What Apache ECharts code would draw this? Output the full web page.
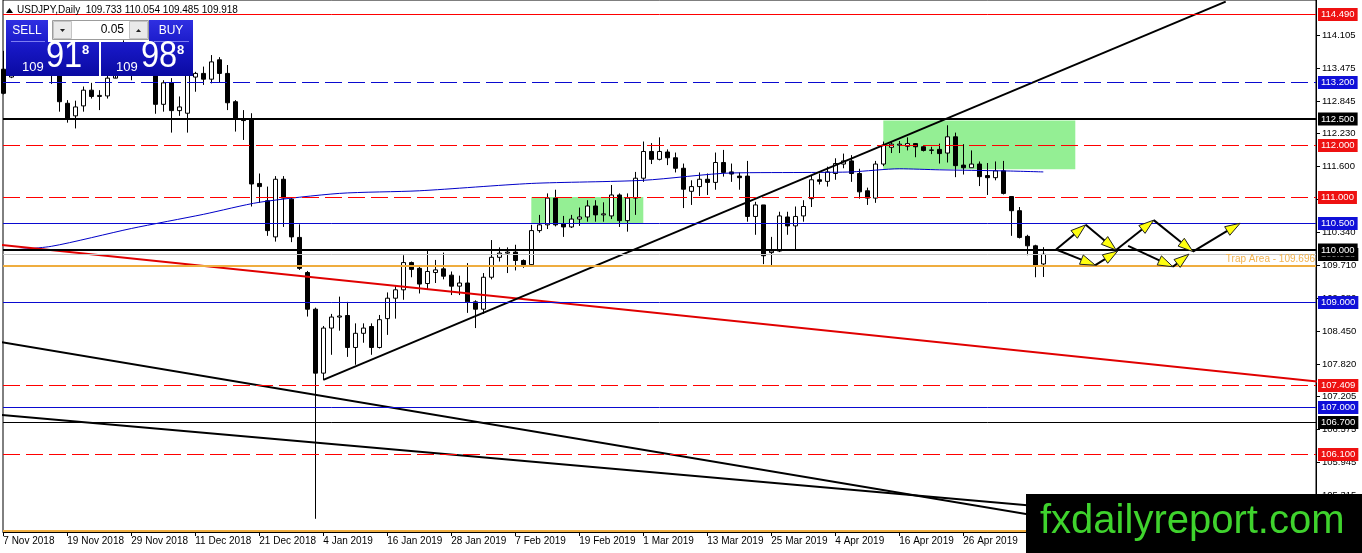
<!DOCTYPE html>
<html><head><meta charset="utf-8">
<script src="https://cdn.jsdelivr.net/npm/echarts@6/dist/echarts.min.js"></script>
<style>html,body{margin:0;padding:0;background:#fff;overflow:hidden}#c{width:1362px;height:553px}</style>
</head><body><div id="c"></div><script>
// ---------- DATA ----------
const symbolName = 'USDJPY,Daily';
const tickLabels = ['7 Nov 2018','19 Nov 2018','29 Nov 2018','11 Dec 2018','21 Dec 2018','4 Jan 2019','16 Jan 2019','28 Jan 2019','7 Feb 2019','19 Feb 2019','1 Mar 2019','13 Mar 2019','25 Mar 2019','4 Apr 2019','16 Apr 2019','26 Apr 2019'];
const barsPerTick = 8;
const yTickValues = [114.105,113.475,112.845,112.230,111.600,110.970,110.340,109.710,109.080,108.450,107.820,107.205,106.575,105.945,105.315];
// daily candles: [open, high, low, close]
const candles = [
[113.45,113.80,112.97,112.99],[113.30,113.95,113.28,113.88],[113.88,114.08,113.60,113.83],[113.83,114.20,113.70,113.85],
[113.85,114.00,113.55,113.78],[113.78,113.95,113.40,113.62],[113.62,113.75,113.17,113.58],[113.58,113.62,112.64,112.83],
[112.80,112.86,112.43,112.51],[112.56,112.85,112.32,112.73],[112.75,113.12,112.64,113.05],[113.05,113.19,112.89,112.93],
[112.93,113.05,112.67,112.95],[112.94,113.40,112.89,113.28],[113.28,113.85,113.32,113.75],[113.75,114.00,113.45,113.65],
[113.65,113.72,113.24,113.45],[113.45,113.75,113.34,113.55],[113.55,113.85,113.40,113.65],[113.65,113.75,112.60,112.78],
[112.78,113.24,112.64,113.19],[113.19,113.28,112.24,112.66],[112.66,112.93,112.56,112.73],[112.61,113.50,112.24,113.34],
[113.30,113.40,113.02,113.37],[113.37,113.50,113.15,113.26],[113.26,113.72,113.18,113.59],[113.63,113.68,113.19,113.37],
[113.37,113.53,112.67,112.81],[112.83,112.86,112.26,112.51],[112.49,112.67,112.10,112.47],[112.50,112.61,110.83,111.26],
[111.27,111.46,110.90,111.21],[110.94,111.21,110.27,110.37],[110.25,111.41,110.16,111.35],[111.35,111.41,110.44,110.99],
[110.97,111.00,110.15,110.25],[110.24,110.49,109.62,109.65],[109.57,109.60,108.73,108.87],[108.87,108.90,104.87,107.65],
[107.65,108.55,107.52,108.51],[108.51,108.78,108.00,108.72],[108.72,109.11,108.46,108.74],[108.75,109.01,107.96,108.14],
[108.14,108.60,107.81,108.41],[108.41,108.60,108.23,108.51],[108.54,108.60,108.00,108.14],[108.14,108.76,108.12,108.67],
[108.69,109.19,108.38,109.08],[109.08,109.33,108.69,109.24],[109.24,109.90,109.05,109.76],[109.76,109.78,109.48,109.63],
[109.65,109.68,109.17,109.35],[109.36,110.00,109.24,109.59],[109.57,109.81,109.37,109.62],[109.64,109.95,109.44,109.50],
[109.52,109.59,109.14,109.31],[109.31,109.51,109.14,109.37],[109.37,109.75,108.80,109.01],[109.01,109.04,108.51,108.87],
[108.87,109.56,108.78,109.48],[109.48,110.19,109.44,109.86],[109.86,110.05,109.78,109.94],[109.94,110.05,109.56,109.96],
[109.96,110.10,109.61,109.80],[109.80,109.82,109.66,109.72],[109.72,110.48,109.70,110.37],[110.37,110.67,110.33,110.48],
[110.48,111.08,110.40,110.99],[110.99,111.15,110.45,110.48],[110.50,110.65,110.25,110.44],[110.44,110.67,110.42,110.59],
[110.59,110.81,110.46,110.63],[110.63,110.95,110.54,110.84],[110.84,110.95,110.54,110.67],[110.67,110.91,110.54,110.69],
[110.65,111.24,110.59,111.05],[111.05,111.08,110.44,110.56],[110.56,111.08,110.35,110.99],[110.99,111.49,110.67,111.37],
[111.37,112.07,111.30,111.88],[111.88,112.04,111.64,111.73],[111.73,112.15,111.71,111.88],[111.87,111.92,111.62,111.76],
[111.76,111.86,111.48,111.56],[111.56,111.65,110.80,111.16],[111.12,111.33,110.86,111.21],[111.21,111.48,111.03,111.35],
[111.35,111.46,111.05,111.29],[111.29,111.86,111.15,111.67],[111.67,111.91,111.40,111.48],[111.49,111.65,111.30,111.45],
[111.41,111.48,111.15,111.38],[111.41,111.70,110.54,110.64],[110.64,110.92,110.29,110.86],[110.86,110.86,109.73,109.89],
[109.95,110.25,109.71,109.98],[109.98,110.73,109.96,110.65],[110.63,110.73,110.29,110.46],[110.46,110.83,110.00,110.64],
[110.65,110.95,110.54,110.83],[110.98,111.43,110.82,111.34],[111.34,111.46,111.25,111.31],[111.31,111.59,111.21,111.49],
[111.46,111.75,111.34,111.65],[111.64,111.84,111.56,111.70],[111.70,111.81,111.30,111.46],[111.46,111.55,110.98,111.11],
[111.13,111.19,110.86,110.99],[110.99,111.70,110.90,111.64],[111.64,112.07,111.60,112.00],[111.96,112.08,111.85,112.02],
[112.00,112.08,111.85,112.02],[111.98,112.15,111.90,112.03],[112.03,112.04,111.77,111.97],[111.97,111.98,111.88,111.90],
[111.90,111.97,111.83,111.91],[111.92,112.03,111.65,111.84],[111.85,112.38,111.67,112.16],[112.16,112.24,111.39,111.61],
[111.62,112.02,111.44,111.57],[111.57,111.90,111.57,111.64],[111.64,111.69,111.22,111.40],[111.42,111.66,111.05,111.38],
[111.38,111.69,111.33,111.51],[111.51,111.70,111.06,111.08],[111.02,111.02,110.27,110.75],[110.75,110.82,110.22,110.24],
[110.26,110.29,109.90,110.08],[110.08,110.10,109.48,109.71],[109.733,110.054,109.485,109.918]
];
const bidPrice = 109.918;
const askPrice = 109.988;
const lotSize = '0.05';
// moving average: [bar index, price]
const maPoints = [[0,109.99],[6,110.07],[16,110.41],[25,110.68],[32,110.91],[42,111.08],[52,111.13],[66,111.27],[80,111.33],[91,111.47],[101,111.48],[106,111.49],[112,111.55],[117,111.53],[125,111.51],[130,111.49]];
// drawn trend lines: [bar index, price] end points
const risingTrend = [[40,107.52],[152.8,114.74]];
const redTrend = [[-1,110.11],[165,107.48]];
const fallingTrendA = [[-1,108.26],[165,104.01]];
const fallingTrendB = [[-1,106.86],[165,104.63]];
// green zones: [fromBar, topPrice, toBar, bottomPrice]
const greenZones = [[66,111.01,80,110.50],[110,112.47,134,111.54]];
// projected path arrows: [fromBar, fromPrice, toBar, toPrice]
const arrowSegments = [
[131.6,110.01,135.3,110.48],[135.3,110.48,139.1,110.00],[131.6,110.01,136.5,109.71],[136.5,109.71,139.3,109.98],
[139.1,110.00,143.8,110.57],[140.6,110.08,146.2,109.68],[143.8,110.57,148.7,109.97],[146.2,109.68,148.2,109.92],
[148.7,109.97,154.6,110.51]
];
// horizontal levels
const redSolidLevels = [114.49];
const redDashedLevels = [112.0, 111.0, 107.409, 106.1];
const blueDashedLevels = [113.2];
const blueSolidLevels = [110.5, 109.0, 107.0];
const blackThickLevels = [112.5, 110.0];
const blackThinLevels = [106.7];
const trapLevel = 109.696;
const trapText = 'Trap Area - ' + trapLevel.toFixed(3);
const bottomLevel = 104.64;
const logoText = 'fxdailyreport.com';

// ---------- CHART ----------
const FONT = 'Liberation Sans';
const X_MIN = -0.0375, X_MAX = 164.0875;
const candleData = candles.map((c, i) => [i, c[0], c[3], c[2], c[1]]);
const tickIdx = tickLabels.map((_, k) => k * barsPerTick);
const last = candles[candles.length - 1];

const KINDS = {
  bid:        { stroke: '#c4c4c4', width: 1, dash: null, bg: '#000' },
  redSolid:   { stroke: '#ff0000', width: 1, dash: null, bg: '#ee1111' },
  redDash:    { stroke: '#ff0000', width: 1, dash: [17, 6], bg: '#ee1111' },
  blueDash:   { stroke: '#0a0ad0', width: 1, dash: [17, 6], bg: '#1010d8' },
  blueSolid:  { stroke: '#0a0ad0', width: 1, dash: null, bg: '#1010d8' },
  blackThin:  { stroke: '#000', width: 1, dash: null, bg: '#000' },
  blackThick: { stroke: '#000', width: 2, dash: null, bg: '#000' },
  trap:       { stroke: '#efad3f', width: 2, dash: null, bg: null, text: trapText },
  bottom:     { stroke: '#efad3f', width: 2, dash: null, bg: null }
};
const levelRows = [].concat(
  [[bidPrice, 'bid'], [bottomLevel, 'bottom'], [trapLevel, 'trap']],
  redSolidLevels.map(p => [p, 'redSolid']),
  redDashedLevels.map(p => [p, 'redDash']),
  blueDashedLevels.map(p => [p, 'blueDash']),
  blueSolidLevels.map(p => [p, 'blueSolid']),
  blackThinLevels.map(p => [p, 'blackThin']),
  blackThickLevels.map(p => [p, 'blackThick'])
);

function trendSeries(pts, color, width) {
  return { type: 'line', data: pts, symbol: 'none', clip: true, z: 5, silent: true,
    lineStyle: { color: color, width: width }, animation: false };
}

const blueGrad = { type: 'linear', x: 0, y: 20, x2: 0, y2: 76, global: true,
  colorStops: [{ offset: 0, color: '#2f2fe2' }, { offset: 0.5, color: '#1717c4' }, { offset: 1, color: '#0a0aa2' }] };
const bidStr = bidPrice.toFixed(3), askStr = askPrice.toFixed(3);

const chart = echarts.init(document.getElementById('c'));
chart.setOption({
  animation: false,
  backgroundColor: '#fff',
  grid: { left: 3, right: 46, top: 0, bottom: 21, show: true, borderColor: '#000', borderWidth: 1, backgroundColor: 'transparent' },
  xAxis: {
    type: 'value', min: X_MIN, max: X_MAX, splitLine: { show: false },
    axisLine: { show: true, onZero: false, lineStyle: { color: '#000', width: 1 } },
    axisTick: { show: true, customValues: tickIdx, length: 4, lineStyle: { color: '#000' } },
    axisLabel: { show: true, customValues: tickIdx, formatter: v => tickLabels[Math.round(v / barsPerTick)] || '',
      align: 'left', margin: 4, fontSize: 10, fontFamily: FONT, color: '#000' }
  },
  yAxis: {
    type: 'value', position: 'right', min: 104.618, max: 114.771, scale: true, splitLine: { show: false },
    axisLine: { show: true, onZero: false, lineStyle: { color: '#000', width: 1 } },
    axisTick: { show: true, customValues: yTickValues, length: 4, lineStyle: { color: '#000' } },
    axisLabel: { show: true, customValues: yTickValues, formatter: v => v.toFixed(3), margin: 6,
      fontSize: 9.5, fontFamily: FONT, color: '#000' }
  },
  series: [
    { type: 'custom', z: 1, silent: true, data: greenZones, encode: { x: [0, 2], y: [1, 3] }, clip: true,
      renderItem: (params, api) => {
        const a = api.coord([api.value(0), api.value(1)]);
        const b = api.coord([api.value(2), api.value(3)]);
        return { type: 'rect', shape: { x: a[0], y: a[1], width: b[0] - a[0], height: b[1] - a[1] }, style: { fill: '#94ef94' } };
      } },
    { type: 'candlestick', z: 3, data: candleData, barWidth: 5, clip: true, silent: true,
      encode: { x: 0, y: [1, 2, 3, 4] },
      itemStyle: { color: '#fff', color0: '#000', borderColor: '#000', borderColor0: '#000', borderWidth: 1 } },
    { type: 'line', z: 4, data: maPoints, symbol: 'none', smooth: 0.25, silent: true, clip: true,
      lineStyle: { color: '#0000c8', width: 1 } },
    // horizontal levels with price boxes
    { type: 'custom', z: 7, silent: true, clip: false, data: levelRows.map(r => [X_MIN, r[0]]), encode: { x: 0, y: 1 },
      renderItem: (params, api) => {
        const row = levelRows[params.dataIndex];
        const k = KINDS[row[1]];
        const cs = params.coordSys;
        const yRaw = api.coord([X_MIN, row[0]])[1];
        const y = k.width % 2 === 1 ? Math.floor(yRaw) + 0.5 : Math.round(yRaw);
        const x0 = cs.x, x1 = cs.x + cs.width;
        const children = [{ type: 'line', shape: { x1: x0, y1: y, x2: x1, y2: y },
          style: { stroke: k.stroke, lineWidth: k.width, lineDash: k.dash } }];
        if (k.bg) {
          children.push({ type: 'text', x: x1 + 2, y: y, style: { text: row[0].toFixed(3), fill: '#fff', backgroundColor: k.bg,
            padding: [2, 3, 1, 3], font: '9.5px ' + FONT, verticalAlign: 'middle', align: 'left' } });
        }
        if (k.text) {
          children.push({ type: 'text', x: x1 - 1, y: y - 2, style: { text: k.text, fill: '#f2b24c',
            font: '10px ' + FONT, verticalAlign: 'bottom', align: 'right' } });
        }
        return { type: 'group', children: children };
      } },
    trendSeries(redTrend, '#e00000', 2),
    trendSeries(fallingTrendA, '#000', 2),
    trendSeries(fallingTrendB, '#000', 2),
    trendSeries(risingTrend, '#000', 2),
    { type: 'custom', z: 8, silent: true, data: arrowSegments, encode: { x: [0, 2], y: [1, 3] }, clip: false,
      renderItem: (params, api) => {
        const a = api.coord([api.value(0), api.value(1)]);
        const b = api.coord([api.value(2), api.value(3)]);
        const dx = b[0] - a[0], dy = b[1] - a[1], len = Math.hypot(dx, dy) || 1;
        const ux = dx / len, uy = dy / len, L = 15, W = 5;
        const bx = b[0] - ux * L, by = b[1] - uy * L;
        return { type: 'group', children: [
          { type: 'line', shape: { x1: a[0], y1: a[1], x2: bx, y2: by }, style: { stroke: '#000', lineWidth: 2 } },
          { type: 'polygon', shape: { points: [b, [bx - uy * W, by + ux * W], [bx + uy * W, by - ux * W]] },
            style: { fill: '#ffff10', stroke: '#202020', lineWidth: 1 } }
        ] };
      } }
  ],
  graphic: [
    // header
    { type: 'polygon', z: 100, shape: { points: [[6, 13], [13, 13], [9.5, 8]] }, style: { fill: '#000' } },
    { type: 'text', z: 100, x: 17, y: 10, style: { text: symbolName + '  ' + last.map(v => v.toFixed(3)).join(' '),
      font: '10px ' + FONT, fill: '#000', verticalAlign: 'middle' } },
    // one-click trading panel
    { type: 'rect', z: 100, shape: { x: 6, y: 20, width: 42, height: 22 }, style: { fill: blueGrad } },
    { type: 'rect', z: 100, shape: { x: 6, y: 42, width: 93, height: 34 }, style: { fill: blueGrad } },
    { type: 'rect', z: 100, shape: { x: 149, y: 20, width: 44, height: 22 }, style: { fill: blueGrad } },
    { type: 'rect', z: 100, shape: { x: 101, y: 42, width: 92, height: 34 }, style: { fill: blueGrad } },
    { type: 'line', z: 101, shape: { x1: 11, y1: 41.5, x2: 45, y2: 41.5 }, style: { stroke: '#7d7df2', lineWidth: 1 } },
    { type: 'line', z: 101, shape: { x1: 154, y1: 41.5, x2: 189, y2: 41.5 }, style: { stroke: '#7d7df2', lineWidth: 1 } },
    { type: 'rect', z: 100, shape: { x: 52.5, y: 20.5, width: 96, height: 19 }, style: { fill: '#fff', stroke: '#9c9c9c', lineWidth: 1 } },
    { type: 'rect', z: 101, shape: { x: 53.5, y: 21.5, width: 18, height: 17 }, style: { fill: '#e9e9e9', stroke: '#c4c4c4', lineWidth: 1 } },
    { type: 'rect', z: 101, shape: { x: 129.5, y: 21.5, width: 18, height: 17 }, style: { fill: '#e9e9e9', stroke: '#c4c4c4', lineWidth: 1 } },
    { type: 'polygon', z: 102, shape: { points: [[60, 29], [65, 29], [62.5, 32]] }, style: { fill: '#222' } },
    { type: 'polygon', z: 102, shape: { points: [[136, 32], [141, 32], [138.5, 29]] }, style: { fill: '#222' } },
    { type: 'text', z: 102, x: 124, y: 30, style: { text: lotSize, font: '12px ' + FONT, fill: '#000', align: 'right', verticalAlign: 'middle' } },
    { type: 'text', z: 102, x: 27, y: 31, style: { text: 'SELL', font: '12px ' + FONT, fill: '#fff', align: 'center', verticalAlign: 'middle' } },
    { type: 'text', z: 102, x: 171, y: 31, style: { text: 'BUY', font: '12px ' + FONT, fill: '#fff', align: 'center', verticalAlign: 'middle' } },
    { type: 'text', z: 102, x: 22, y: 67, style: { text: bidStr.slice(0, 3), font: '13px ' + FONT, fill: '#fff', verticalAlign: 'middle' } },
    { type: 'text', z: 102, x: 46, y: 57, scaleX: 0.88, style: { text: bidStr.slice(4, 6), font: '37px ' + FONT, fill: '#fff', verticalAlign: 'middle' } },
    { type: 'text', z: 102, x: 82, y: 50, style: { text: bidStr.slice(6), font: 'bold 13px ' + FONT, fill: '#fff', verticalAlign: 'middle' } },
    { type: 'text', z: 102, x: 116, y: 67, style: { text: askStr.slice(0, 3), font: '13px ' + FONT, fill: '#fff', verticalAlign: 'middle' } },
    { type: 'text', z: 102, x: 141, y: 57, scaleX: 0.88, style: { text: askStr.slice(4, 6), font: '37px ' + FONT, fill: '#fff', verticalAlign: 'middle' } },
    { type: 'text', z: 102, x: 177, y: 50, style: { text: askStr.slice(6), font: 'bold 13px ' + FONT, fill: '#fff', verticalAlign: 'middle' } },
    // watermark logo
    { type: 'rect', z: 110, shape: { x: 1026, y: 494, width: 336, height: 59 }, style: { fill: '#000' } },
    { type: 'text', z: 111, x: 1040, y: 522, style: { text: logoText, font: '40px ' + FONT, fill: '#3fd32d', verticalAlign: 'middle' } }
  ]
});
</script></body></html>
